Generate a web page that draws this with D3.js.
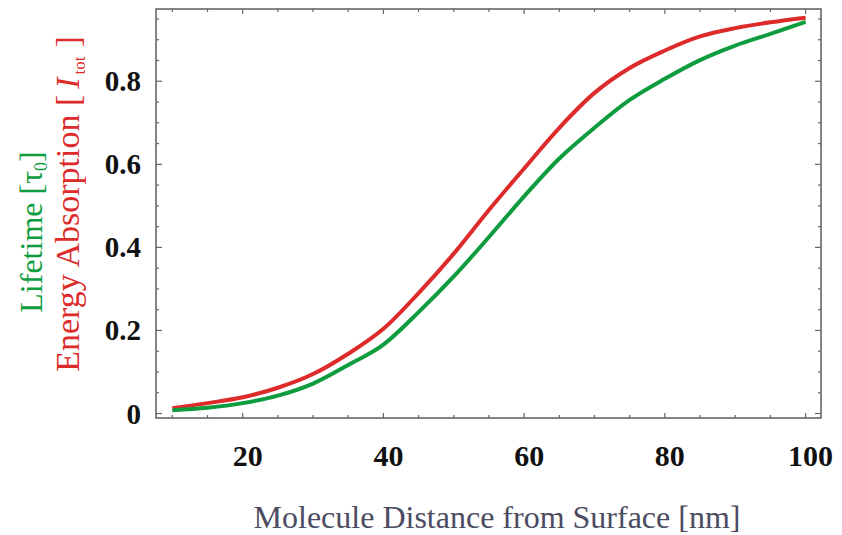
<!DOCTYPE html>
<html>
<head>
<meta charset="utf-8">
<script src="https://cdn.jsdelivr.net/npm/d3@7"></script>
<style>
  body { margin: 0; background: #fff; }
  svg { display: block; }
</style>
</head>
<body>
<div id="chart"></div>
<script>
// Data
const distance = [10, 15, 20, 25, 30, 35, 40, 45, 50, 55, 60, 65, 70, 75, 80, 85, 90, 95, 100];
const absorption = [0.013, 0.025, 0.039, 0.062, 0.095, 0.144, 0.204, 0.290, 0.385, 0.490, 0.590, 0.688, 0.772, 0.832, 0.874, 0.908, 0.928, 0.942, 0.953];
const lifetime = [0.008, 0.014, 0.025, 0.043, 0.072, 0.117, 0.166, 0.244, 0.330, 0.425, 0.523, 0.614, 0.688, 0.755, 0.806, 0.851, 0.886, 0.914, 0.943];
const xTickLabels = [20, 40, 60, 80, 100];
const yTickLabels = [0, 0.2, 0.4, 0.6, 0.8];

// Set the dimensions and margins of the graph
const margin = { top: 9, right: 21, bottom: 117, left: 156 };
const width = 842 - margin.left - margin.right;
const height = 535 - margin.top - margin.bottom;

const red = "#dd2b2b";
const green = "#0e9c3e";
const frameColor = "#666";
const serif = "'Liberation Serif', 'DejaVu Serif', serif";

const svg = d3.select("#chart")
    .append("svg")
    .attr("width", 842)
    .attr("height", 535)
    .append("g")
    .attr("transform", `translate(${margin.left},${margin.top})`);

const x = d3.scaleLinear().domain([7.68, 102.19]).range([0, width]);
const y = d3.scaleLinear().domain([-0.0108, 0.974]).range([height, 0]);

// Ticks on all four sides, pointing inward
const xMinor = d3.range(10, 101, 5);
const yMinor = d3.range(0, 0.96, 0.05);
const isMajorX = v => v % 20 === 0;
const isMajorY = v => Math.abs(Math.round(v * 5) - v * 5) < 1e-6;

const ticks = svg.append("g").attr("stroke", frameColor).attr("stroke-width", 1.2);
xMinor.forEach(v => {
    const len = isMajorX(v) ? 5 : 3;
    ticks.append("line").attr("x1", x(v)).attr("x2", x(v)).attr("y1", height).attr("y2", height - len);
    ticks.append("line").attr("x1", x(v)).attr("x2", x(v)).attr("y1", 0).attr("y2", len);
});
yMinor.forEach(v => {
    const len = isMajorY(v) ? 6 : 3;
    ticks.append("line").attr("y1", y(v)).attr("y2", y(v)).attr("x1", 0).attr("x2", len);
    ticks.append("line").attr("y1", y(v)).attr("y2", y(v)).attr("x1", width).attr("x2", width - len);
});

// Frame
svg.append("rect")
    .attr("width", width)
    .attr("height", height)
    .attr("fill", "none")
    .attr("stroke", frameColor)
    .attr("stroke-width", 1.6);

// Tick labels
svg.append("g")
    .selectAll("text")
    .data(xTickLabels)
    .enter()
    .append("text")
    .attr("x", d => x(d) + 5)
    .attr("y", height + 48)
    .attr("text-anchor", "middle")
    .style("font-family", serif)
    .style("font-weight", "bold")
    .style("font-size", "30px")
    .style("fill", "#111")
    .text(d => d);

svg.append("g")
    .selectAll("text")
    .data(yTickLabels)
    .enter()
    .append("text")
    .attr("x", -15)
    .attr("y", d => y(d) + 10)
    .attr("text-anchor", "end")
    .style("font-family", serif)
    .style("font-weight", "bold")
    .style("font-size", "29px")
    .style("fill", "#111")
    .text(d => d);

// Curves
const line = d3.line()
    .x((d, i) => x(distance[i]))
    .y(d => y(d))
    .curve(d3.curveMonotoneX);

svg.append("path")
    .datum(absorption)
    .attr("fill", "none")
    .attr("stroke", red)
    .attr("stroke-width", 4)
    .attr("d", line);

svg.append("path")
    .datum(lifetime)
    .attr("fill", "none")
    .attr("stroke", green)
    .attr("stroke-width", 4)
    .attr("d", line);

// Axis labels
svg.append("text")
    .attr("x", 497 - margin.left)
    .attr("y", 528 - margin.top)
    .attr("text-anchor", "middle")
    .style("font-family", serif)
    .style("font-size", "32px")
    .style("fill", "#4b4b62")
    .text("Molecule Distance from Surface [nm]");

const lifeLabel = svg.append("text")
    .attr("transform", `translate(${42 - margin.left},${232 - margin.top}) rotate(-90)`)
    .attr("text-anchor", "middle")
    .style("font-family", serif)
    .style("font-size", "32px")
    .style("fill", green);
lifeLabel.append("tspan").text("Lifetime [\u03c4");
lifeLabel.append("tspan").attr("dy", 5).style("font-size", "18px").text("0");
lifeLabel.append("tspan").attr("dy", -5).text("]");

const energyLabel = svg.append("text")
    .attr("transform", `translate(${79 - margin.left},${204 - margin.top}) rotate(-90)`)
    .attr("text-anchor", "middle")
    .style("font-family", serif)
    .style("font-size", "34px")
    .style("fill", red);
energyLabel.append("tspan").text("Energy Absorption [");
energyLabel.append("tspan").attr("dx", 6).style("font-style", "italic").text("I");
energyLabel.append("tspan").attr("dx", 3).attr("dy", 6).style("font-size", "17px").text("tot");
energyLabel.append("tspan").attr("dx", 9).attr("dy", -6).text("]");
</script>
</body>
</html>
